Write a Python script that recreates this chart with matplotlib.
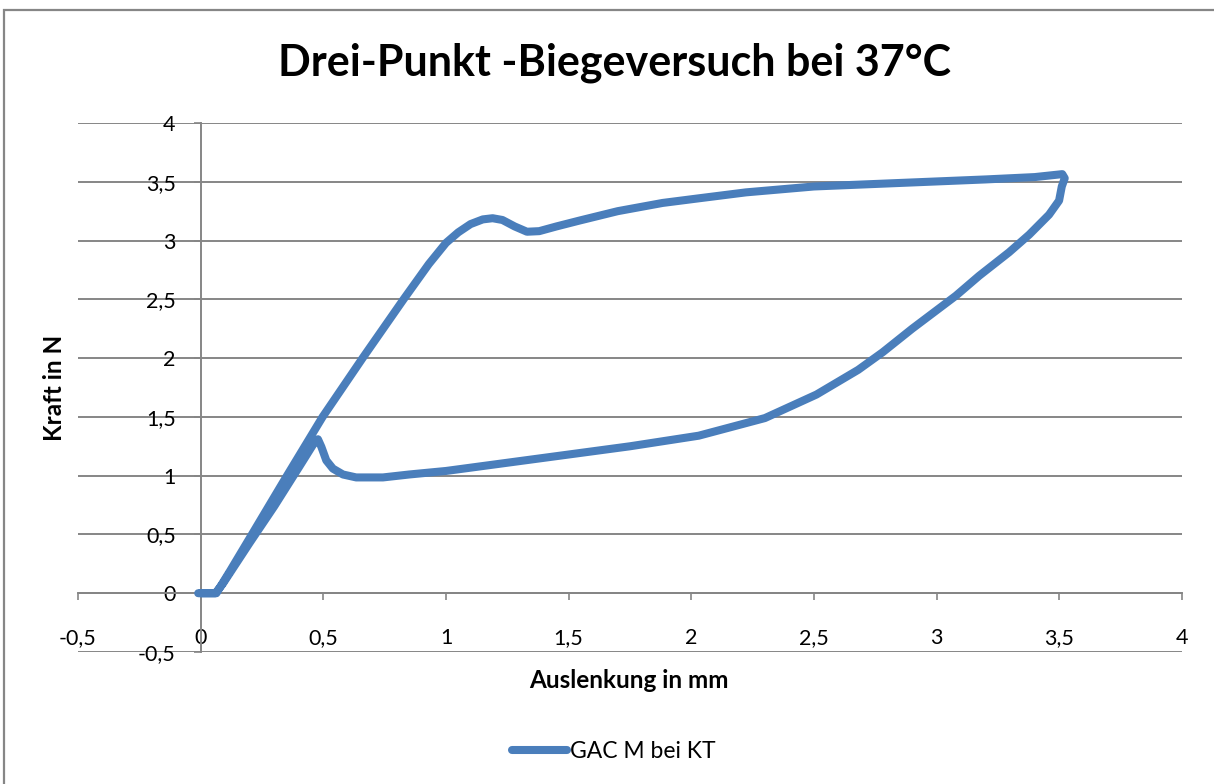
import matplotlib
matplotlib.use('Agg')
import matplotlib.pyplot as plt
import matplotlib.ticker as mtick
import matplotlib.patches as mpatches

plt.rcParams['font.family'] = ['Lato', 'DejaVu Sans']

# Auslenkung (mm) und Kraft (N): Belastung, dann Entlastung
auslenkung = [-0.01, 0.064, 0.12, 0.186, 0.349, 0.497, 0.66, 0.827, 0.93, 1.0, 1.05, 1.10,
              1.15, 1.19, 1.23, 1.28, 1.33, 1.38, 1.45, 1.544, 1.70, 1.883, 2.033, 2.223,
              2.50, 2.85, 3.20, 3.40, 3.512, 3.522, 3.51, 3.499, 3.458, 3.377, 3.295, 3.173,
              3.078, 2.90, 2.78, 2.68, 2.51, 2.30, 2.03, 1.75, 1.50, 1.25, 1.00, 0.85,
              0.743, 0.634, 0.58, 0.539, 0.512, 0.492, 0.478, 0.46, 0.40, 0.30, 0.20, 0.09,
              0.06, 0.0]
kraft = [0.0, 0.0, 0.19, 0.42, 0.99, 1.5, 2.0, 2.5, 2.8, 2.98, 3.07, 3.14,
         3.18, 3.19, 3.175, 3.12, 3.075, 3.08, 3.12, 3.17, 3.25, 3.32, 3.36, 3.41,
         3.46, 3.49, 3.52, 3.54, 3.565, 3.53, 3.46, 3.34, 3.22, 3.05, 2.90, 2.70,
         2.53, 2.25, 2.05, 1.90, 1.69, 1.49, 1.34, 1.25, 1.18, 1.11, 1.04, 1.01,
         0.985, 0.985, 1.01, 1.06, 1.13, 1.245, 1.31, 1.27, 1.07, 0.74, 0.43, 0.08,
         0.0, 0.0]

x_ticks = [-0.5, 0, 0.5, 1, 1.5, 2, 2.5, 3, 3.5, 4]
y_ticks = [-0.5, 0, 0.5, 1, 1.5, 2, 2.5, 3, 3.5, 4]

grau = '#868686'


def komma(v, pos):
    return ('%g' % v).replace('.', ',')


fig = plt.figure(figsize=(12.14, 7.84), dpi=100)
ax = fig.add_axes([78 / 1214, 1 - 652 / 784, (1182 - 78) / 1214, (652 - 123) / 784])

ax.plot(auslenkung, kraft, color='#4A7EBB', lw=5.8, solid_capstyle='round',
        solid_joinstyle='round', label='GAC M bei KT', zorder=3)

ax.set_xlim(-0.5, 4)
ax.set_ylim(-0.5, 4)
ax.set_xticks(x_ticks)
ax.set_yticks(y_ticks)
ax.xaxis.set_major_formatter(mtick.FuncFormatter(komma))
ax.yaxis.set_major_formatter(mtick.FuncFormatter(komma))

ax.yaxis.grid(True, color=grau, lw=1.4)
ax.set_axisbelow(True)

for s in ['top', 'right']:
    ax.spines[s].set_visible(False)
ax.spines['left'].set_position(('data', 0))
ax.spines['bottom'].set_position(('data', 0))
for s in ['left', 'bottom']:
    ax.spines[s].set_color(grau)
    ax.spines[s].set_linewidth(1.4)

ax.tick_params(axis='x', direction='out', length=5, width=1.2, color=grau, pad=20, labelsize=15.5)
ax.tick_params(axis='y', direction='out', length=5, width=1.2, color=grau, pad=13, labelsize=15.5)

fig.text(614 / 1214, 1 - 63 / 784, 'Drei-Punkt -Biegeversuch bei 37°C', ha='center', va='center',
         fontsize=31, fontweight='bold')
fig.text(629 / 1214, 1 - 680 / 784, 'Auslenkung in mm', ha='center', va='center',
         fontsize=17.5, fontweight='bold')
fig.text(55 / 1214, 1 - 388 / 784, 'Kraft in N', ha='center', va='center', rotation=90,
         fontsize=17.5, fontweight='bold')

fig.legend(loc='center', bbox_to_anchor=(614 / 1214, 1 - 752 / 784), frameon=False, fontsize=16.5,
           handlelength=2.4, handletextpad=0.15)

# Rahmen des Diagrammbereichs
fig.patches.append(mpatches.Rectangle((4 / 1214, -0.1), 1.2, 1 - 10 / 784 + 0.1, transform=fig.transFigure,
                                      fill=False, edgecolor=grau, lw=1.6))

fig.savefig('out.png', dpi=100)
